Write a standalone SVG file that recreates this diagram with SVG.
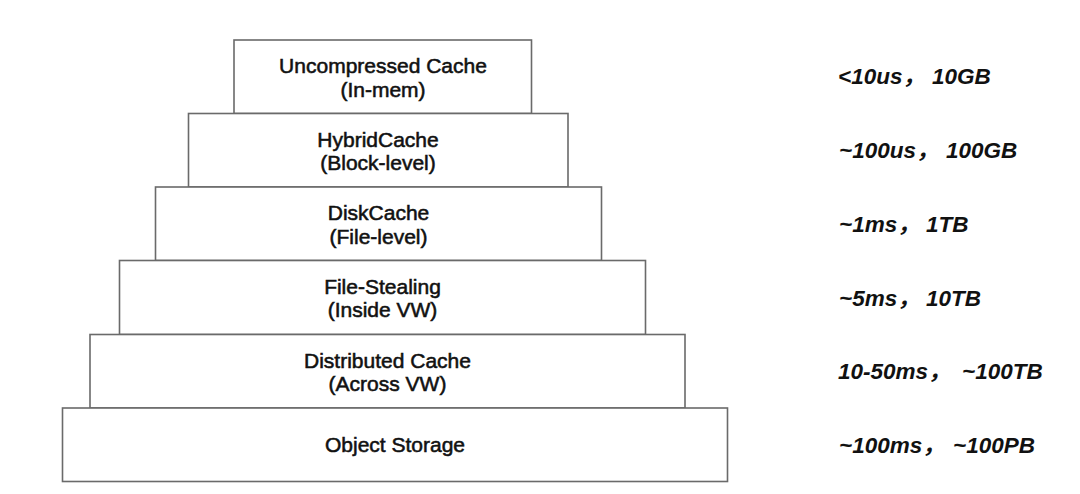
<svg xmlns="http://www.w3.org/2000/svg" width="1080" height="494" viewBox="0 0 1080 494">
  <style>
    .box { fill: #ffffff; stroke: #6a6a6a; stroke-width: 1.6; }
    .lbl { font-family: "Liberation Sans", Arial, "Noto Sans CJK SC", sans-serif; font-size: 21px; fill: #111; stroke: #111; stroke-width: 0.55; text-anchor: middle; }
    .perf { font-family: "Liberation Sans", Arial, "Noto Sans CJK SC", sans-serif; font-size: 22.5px; font-weight: bold; font-style: italic; fill: #111; }
  </style>
  <rect width="1080" height="494" fill="#ffffff"/>
  <g id="connectors"></g>
  <g id="node-uncompressed">
    <rect class="box" x="234" y="40" width="297.5" height="73.5"/>
    <text class="lbl" x="383" y="73.3">Uncompressed Cache</text>
    <text class="lbl" x="383" y="96.7">(In-mem)</text>
  </g>
  <g id="node-hybrid">
    <rect class="box" x="188.5" y="113.5" width="379.5" height="73.5"/>
    <text class="lbl" x="378" y="146.8">HybridCache</text>
    <text class="lbl" x="378" y="170.2">(Block-level)</text>
  </g>
  <g id="node-disk">
    <rect class="box" x="155.5" y="187" width="446" height="73.5"/>
    <text class="lbl" x="378.5" y="220.3">DiskCache</text>
    <text class="lbl" x="378.5" y="243.7">(File-level)</text>
  </g>
  <g id="node-filestealing">
    <rect class="box" x="119.5" y="260.5" width="526" height="74"/>
    <text class="lbl" x="382.5" y="293.8">File-Stealing</text>
    <text class="lbl" x="382.5" y="317.2">(Inside VW)</text>
  </g>
  <g id="node-distributed">
    <rect class="box" x="90" y="334.5" width="595" height="73.5"/>
    <text class="lbl" x="387.5" y="367.8">Distributed Cache</text>
    <text class="lbl" x="387.5" y="391.2">(Across VW)</text>
  </g>
  <g id="node-object">
    <rect class="box" x="62.5" y="408" width="665" height="73.5"/>
    <text class="lbl" x="395" y="452">Object Storage</text>
  </g>
  <g id="perf-labels">
    <text class="perf" y="84"><tspan x="838">&lt;10us，</tspan><tspan x="932">10GB</tspan></text>
    <text class="perf" y="158"><tspan x="839">~100us，</tspan><tspan x="946">100GB</tspan></text>
    <text class="perf" y="232"><tspan x="839">~1ms，</tspan><tspan x="926">1TB</tspan></text>
    <text class="perf" y="306"><tspan x="839">~5ms，</tspan><tspan x="926">10TB</tspan></text>
    <text class="perf" y="379"><tspan x="838">10-50ms，</tspan><tspan x="962">~100TB</tspan></text>
    <text class="perf" y="453"><tspan x="839">~100ms，</tspan><tspan x="953">~100PB</tspan></text>
  </g>
</svg>
